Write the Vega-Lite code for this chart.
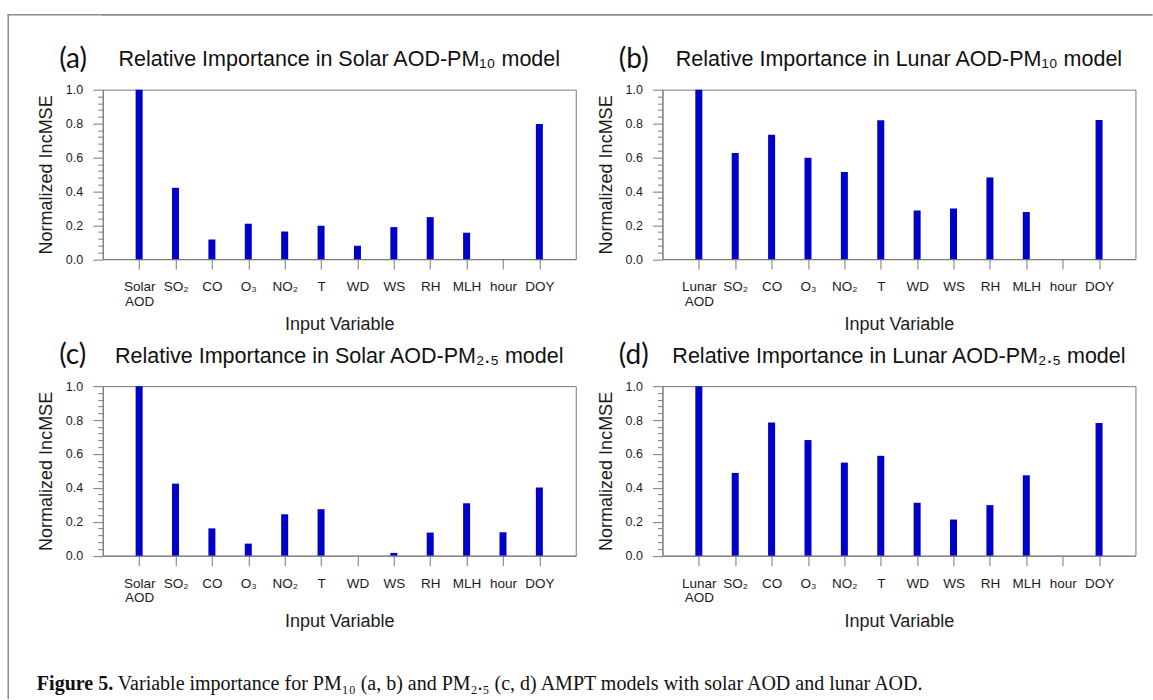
{
  "$schema": "https://vega.github.io/schema/vega-lite/v6.json",
  "background": "white",
  "padding": {"left": 7.75, "top": 13.25, "right": 0, "bottom": 0},
  "datasets": {
    "importance": [
      {"panel": "a", "variable": "Solar AOD", "value": 1.0},
      {"panel": "a", "variable": "SO₂", "value": 0.421},
      {"panel": "a", "variable": "CO", "value": 0.116},
      {"panel": "a", "variable": "O₃", "value": 0.209},
      {"panel": "a", "variable": "NO₂", "value": 0.163},
      {"panel": "a", "variable": "T", "value": 0.197},
      {"panel": "a", "variable": "WD", "value": 0.079},
      {"panel": "a", "variable": "WS", "value": 0.189},
      {"panel": "a", "variable": "RH", "value": 0.248},
      {"panel": "a", "variable": "MLH", "value": 0.156},
      {"panel": "a", "variable": "hour", "value": 0},
      {"panel": "a", "variable": "DOY", "value": 0.797},
      {"panel": "b", "variable": "Lunar AOD", "value": 1.0},
      {"panel": "b", "variable": "SO₂", "value": 0.626},
      {"panel": "b", "variable": "CO", "value": 0.734},
      {"panel": "b", "variable": "O₃", "value": 0.598},
      {"panel": "b", "variable": "NO₂", "value": 0.514},
      {"panel": "b", "variable": "T", "value": 0.819},
      {"panel": "b", "variable": "WD", "value": 0.287},
      {"panel": "b", "variable": "WS", "value": 0.299},
      {"panel": "b", "variable": "RH", "value": 0.482},
      {"panel": "b", "variable": "MLH", "value": 0.278},
      {"panel": "b", "variable": "hour", "value": 0},
      {"panel": "b", "variable": "DOY", "value": 0.821},
      {"panel": "c", "variable": "Solar AOD", "value": 1.0},
      {"panel": "c", "variable": "SO₂", "value": 0.425},
      {"panel": "c", "variable": "CO", "value": 0.161},
      {"panel": "c", "variable": "O₃", "value": 0.071},
      {"panel": "c", "variable": "NO₂", "value": 0.244},
      {"panel": "c", "variable": "T", "value": 0.274},
      {"panel": "c", "variable": "WD", "value": 0},
      {"panel": "c", "variable": "WS", "value": 0.016},
      {"panel": "c", "variable": "RH", "value": 0.136},
      {"panel": "c", "variable": "MLH", "value": 0.309},
      {"panel": "c", "variable": "hour", "value": 0.138},
      {"panel": "c", "variable": "DOY", "value": 0.402},
      {"panel": "d", "variable": "Lunar AOD", "value": 1.0},
      {"panel": "d", "variable": "SO₂", "value": 0.488},
      {"panel": "d", "variable": "CO", "value": 0.785},
      {"panel": "d", "variable": "O₃", "value": 0.682},
      {"panel": "d", "variable": "NO₂", "value": 0.549},
      {"panel": "d", "variable": "T", "value": 0.589},
      {"panel": "d", "variable": "WD", "value": 0.312},
      {"panel": "d", "variable": "WS", "value": 0.213},
      {"panel": "d", "variable": "RH", "value": 0.298},
      {"panel": "d", "variable": "MLH", "value": 0.474},
      {"panel": "d", "variable": "hour", "value": 0},
      {"panel": "d", "variable": "DOY", "value": 0.783}
    ]
  },
  "spacing": -67,
  "hconcat": [
    {
      "width": 94.75,
      "height": 685,
      "data": {"values": []},
      "mark": "point",
      "view": {"stroke": null},
      "encoding": {
        "x": {"datum": 0, "type": "quantitative", "scale": {"domain": [0, 1]}, "axis": {"orient": "top", "domain": true, "ticks": false, "labels": false, "title": null, "grid": false, "domainColor": "#8c8c8c", "domainWidth": 1.5, "domainCap": "square"}},
        "y": {"datum": 0, "type": "quantitative", "scale": {"domain": [0, 1]}, "axis": {"orient": "left", "domain": true, "ticks": false, "labels": false, "title": null, "grid": false, "domainColor": "#8c8c8c", "domainWidth": 1.5, "domainCap": "square"}}
      }
    },
    {
      "spacing": 28.4,
      "title": {"text": "Figure 5.", "orient": "bottom", "anchor": "start", "font": "Liberation Serif", "fontSize": 20, "fontWeight": "bold", "color": "#111111", "offset": -20},
      "vconcat": [
        {
          "width": 1049,
          "height": 0.5,
          "data": {"values": []},
          "mark": "point",
          "encoding": {},
          "view": {"stroke": "#8c8c8c", "strokeWidth": 1.25}
        },
        {
          "data": {"name": "importance"},
          "columns": 2,
          "bounds": "flush",
          "spacing": {"row": 126.5, "column": 86.7},
          "title": {"text": "Variable importance for PM₁₀ (a, b) and PM₂.₅ (c, d) AMPT models with solar AOD and lunar AOD.", "orient": "bottom", "anchor": "start", "font": "Liberation Serif", "fontSize": 20, "fontWeight": "normal", "color": "#111111", "offset": 43.5, "dx": 81},
          "concat": [
            {
              "width": 473,
              "height": 169.5,
              "title": {"text": "Relative Importance in Solar AOD-PM₁₀ model"},
              "resolve": {"axis": {"y": "independent"}},
              "layer": [
                {
                  "transform": [{"filter": "datum.panel === 'a'"}],
                  "mark": {"type": "bar", "width": 7, "color": "#0000c8"},
                  "encoding": {
                    "x": {"field": "variable", "type": "nominal", "sort": null, "scale": {"type": "point", "padding": 1}, "axis": {"title": "Input Variable", "labelExpr": "split(datum.label, ' ')"}},
                    "y": {"field": "value", "type": "quantitative", "scale": {"domain": [0, 1], "nice": false}, "axis": {"title": "Normalized IncMSE", "values": [0, 0.2, 0.4, 0.6, 0.8, 1], "format": ".1f"}}
                  }
                },
                {
                  "data": {"values": [{"letter": "(a)"}]},
                  "mark": {"type": "text", "font": "Lato", "fontSize": 28, "align": "left", "baseline": "alphabetic", "dx": -80, "dy": -22, "color": "#111111"},
                  "encoding": {
                    "text": {"field": "letter"},
                    "x": {"datum": "Solar AOD", "type": "nominal"},
                    "y": {"datum": 1, "type": "quantitative", "axis": {"orient": "left", "title": null, "labels": false, "domain": false, "tickSize": 5, "values": [0.04, 0.08, 0.12, 0.16, 0.24, 0.28, 0.32, 0.36, 0.44, 0.48, 0.52, 0.56, 0.64, 0.68, 0.72, 0.76, 0.84, 0.88, 0.92, 0.96]}}
                  }
                }
              ]
            },
            {
              "width": 473,
              "height": 169.5,
              "title": {"text": "Relative Importance in Lunar AOD-PM₁₀ model"},
              "resolve": {"axis": {"y": "independent"}},
              "layer": [
                {
                  "transform": [{"filter": "datum.panel === 'b'"}],
                  "mark": {"type": "bar", "width": 7, "color": "#0000c8"},
                  "encoding": {
                    "x": {"field": "variable", "type": "nominal", "sort": null, "scale": {"type": "point", "padding": 1}, "axis": {"title": "Input Variable", "labelExpr": "split(datum.label, ' ')"}},
                    "y": {"field": "value", "type": "quantitative", "scale": {"domain": [0, 1], "nice": false}, "axis": {"title": "Normalized IncMSE", "values": [0, 0.2, 0.4, 0.6, 0.8, 1], "format": ".1f"}}
                  }
                },
                {
                  "data": {"values": [{"letter": "(b)"}]},
                  "mark": {"type": "text", "font": "Lato", "fontSize": 28, "align": "left", "baseline": "alphabetic", "dx": -80, "dy": -22, "color": "#111111"},
                  "encoding": {
                    "text": {"field": "letter"},
                    "x": {"datum": "Lunar AOD", "type": "nominal"},
                    "y": {"datum": 1, "type": "quantitative", "axis": {"orient": "left", "title": null, "labels": false, "domain": false, "tickSize": 5, "values": [0.04, 0.08, 0.12, 0.16, 0.24, 0.28, 0.32, 0.36, 0.44, 0.48, 0.52, 0.56, 0.64, 0.68, 0.72, 0.76, 0.84, 0.88, 0.92, 0.96]}}
                  }
                }
              ]
            },
            {
              "width": 473,
              "height": 169.5,
              "title": {"text": "Relative Importance in Solar AOD-PM₂.₅ model"},
              "resolve": {"axis": {"y": "independent"}},
              "layer": [
                {
                  "transform": [{"filter": "datum.panel === 'c'"}],
                  "mark": {"type": "bar", "width": 7, "color": "#0000c8"},
                  "encoding": {
                    "x": {"field": "variable", "type": "nominal", "sort": null, "scale": {"type": "point", "padding": 1}, "axis": {"title": "Input Variable", "labelExpr": "split(datum.label, ' ')"}},
                    "y": {"field": "value", "type": "quantitative", "scale": {"domain": [0, 1], "nice": false}, "axis": {"title": "Normalized IncMSE", "values": [0, 0.2, 0.4, 0.6, 0.8, 1], "format": ".1f"}}
                  }
                },
                {
                  "data": {"values": [{"letter": "(c)"}]},
                  "mark": {"type": "text", "font": "Lato", "fontSize": 28, "align": "left", "baseline": "alphabetic", "dx": -80, "dy": -22, "color": "#111111"},
                  "encoding": {
                    "text": {"field": "letter"},
                    "x": {"datum": "Solar AOD", "type": "nominal"},
                    "y": {"datum": 1, "type": "quantitative", "axis": {"orient": "left", "title": null, "labels": false, "domain": false, "tickSize": 5, "values": [0.04, 0.08, 0.12, 0.16, 0.24, 0.28, 0.32, 0.36, 0.44, 0.48, 0.52, 0.56, 0.64, 0.68, 0.72, 0.76, 0.84, 0.88, 0.92, 0.96]}}
                  }
                }
              ]
            },
            {
              "width": 473,
              "height": 169.5,
              "title": {"text": "Relative Importance in Lunar AOD-PM₂.₅ model"},
              "resolve": {"axis": {"y": "independent"}},
              "layer": [
                {
                  "transform": [{"filter": "datum.panel === 'd'"}],
                  "mark": {"type": "bar", "width": 7, "color": "#0000c8"},
                  "encoding": {
                    "x": {"field": "variable", "type": "nominal", "sort": null, "scale": {"type": "point", "padding": 1}, "axis": {"title": "Input Variable", "labelExpr": "split(datum.label, ' ')"}},
                    "y": {"field": "value", "type": "quantitative", "scale": {"domain": [0, 1], "nice": false}, "axis": {"title": "Normalized IncMSE", "values": [0, 0.2, 0.4, 0.6, 0.8, 1], "format": ".1f"}}
                  }
                },
                {
                  "data": {"values": [{"letter": "(d)"}]},
                  "mark": {"type": "text", "font": "Lato", "fontSize": 28, "align": "left", "baseline": "alphabetic", "dx": -80, "dy": -22, "color": "#111111"},
                  "encoding": {
                    "text": {"field": "letter"},
                    "x": {"datum": "Lunar AOD", "type": "nominal"},
                    "y": {"datum": 1, "type": "quantitative", "axis": {"orient": "left", "title": null, "labels": false, "domain": false, "tickSize": 5, "values": [0.04, 0.08, 0.12, 0.16, 0.24, 0.28, 0.32, 0.36, 0.44, 0.48, 0.52, 0.56, 0.64, 0.68, 0.72, 0.76, 0.84, 0.88, 0.92, 0.96]}}
                  }
                }
              ]
            }
          ]
        }
      ]
    }
  ],
  "config": {
    "font": "Liberation Sans",
    "view": {"stroke": "#7a7a7a", "strokeWidth": 1},
    "title": {"font": "Liberation Sans", "fontSize": 21.5, "fontWeight": "normal", "color": "#111111", "anchor": "middle", "offset": -25},
    "axis": {"domainColor": "#7a7a7a", "tickColor": "#7a7a7a", "domainWidth": 1, "tickWidth": 1, "labelColor": "#1c1c1c", "titleColor": "#1c1c1c", "labelFont": "Liberation Sans", "titleFont": "Liberation Sans", "titleFontWeight": "normal", "grid": false},
    "axisX": {"labelFontSize": 13.5, "labelAngle": 0, "labelPadding": 10.5, "tickSize": 10, "titleFontSize": 18, "titlePadding": 8, "labelLineHeight": 14.5, "labelOverlap": false},
    "axisY": {"labelFontSize": 12.5, "labelPadding": 10, "tickSize": 10, "titleFontSize": 18, "titlePadding": 10}
  }
}
